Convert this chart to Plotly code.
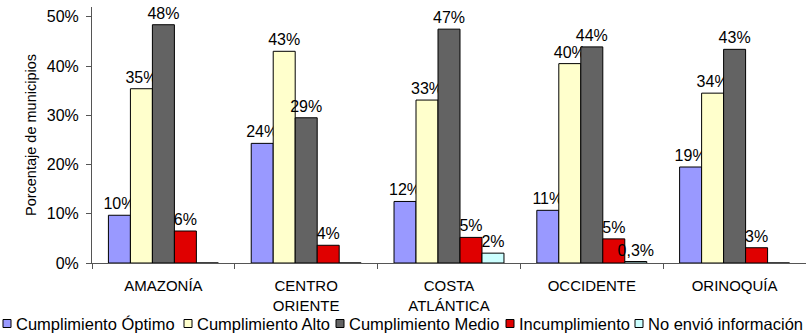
import plotly.graph_objects as go

categories = ["AMAZONÍA", "CENTRO<br>ORIENTE", "COSTA<br>ATLÁNTICA", "OCCIDENTE", "ORINOQUÍA"]
series_names = ["Cumplimiento Óptimo", "Cumplimiento Alto", "Cumplimiento Medio",
                "Incumplimiento", "No envió información"]
optimo = [0.097, 0.243, 0.125, 0.107, 0.195]
alto = [0.354, 0.430, 0.331, 0.405, 0.345]
medio = [0.484, 0.295, 0.475, 0.439, 0.434]
incumplimiento = [0.065, 0.036, 0.052, 0.049, 0.031]
no_envio = [0.0, 0.0, 0.020, 0.003, 0.0]
labels_optimo = ["10%", "24%", "12%", "11%", "19%"]
labels_alto = ["35%", "43%", "33%", "40%", "34%"]
labels_medio = ["48%", "29%", "47%", "44%", "43%"]
labels_incump = ["6%", "4%", "5%", "5%", "3%"]
labels_no_envio = ["", "", "2%", "0,3%", ""]
y_ticks = [0, 0.1, 0.2, 0.3, 0.4, 0.5]
y_ticklabels = ["0%", "10%", "20%", "30%", "40%", "50%"]

# styling
colors = ["#9999FF", "#FFFFCC", "#636363", "#E00000", "#CCFFFF"]
FONT = "Liberation Sans, Arial, sans-serif"
W, H = 806, 336
ML, MR, MT, MB = 92, 0, 7, 73
PW, PH = W - ML - MR, H - MT - MB

# custom legend layout (pixel positions of the swatches, Excel style)
legend_swatch_px = [3, 184, 336, 506, 635]
legend_center_y_px = 324
swatch = 8

def px_x(px):
    return (px - ML) / PW

def px_y(py):
    return (H - MB - py) / PH

values = [optimo, alto, medio, incumplimiento, no_envio]
texts = [labels_optimo, labels_alto, labels_medio, labels_incump, labels_no_envio]

fig = go.Figure()
for name, vals, txt, col in zip(series_names, values, texts, colors):
    fig.add_trace(go.Bar(
        name=name, x=categories, y=vals, text=txt,
        textposition="outside", constraintext="none", cliponaxis=False,
        textfont=dict(family=FONT, size=16, color="#000"),
        marker=dict(color=col, line=dict(color="#000", width=1)),
        showlegend=False,
    ))

shapes = []
annotations = []
for name, col, sx in zip(series_names, colors, legend_swatch_px):
    shapes.append(dict(type="rect", xref="paper", yref="paper",
                       x0=px_x(sx), x1=px_x(sx + swatch),
                       y0=px_y(legend_center_y_px + swatch / 2 - 0.5),
                       y1=px_y(legend_center_y_px - swatch / 2 - 0.5),
                       fillcolor=col, line=dict(color="#000", width=1)))
    annotations.append(dict(text=name, xref="paper", yref="paper",
                            x=px_x(sx + swatch + 3), y=px_y(legend_center_y_px),
                            xanchor="left", yanchor="middle", showarrow=False,
                            font=dict(family=FONT, size=16.5, color="#000")))

fig.update_layout(
    width=W, height=H,
    margin=dict(l=ML, r=MR, t=MT, b=MB),
    paper_bgcolor="white", plot_bgcolor="white",
    barmode="group", bargap=0.23, bargroupgap=0,
    font=dict(family=FONT, size=16, color="#000"),
    showlegend=False,
    shapes=shapes, annotations=annotations,
    xaxis=dict(showline=True, linecolor="#555", linewidth=1, automargin=False,
               ticks="outside", tickson="boundaries", ticklen=5, tickcolor="#555",
               tickfont=dict(family=FONT, size=15, color="#000"),
               ticklabelstandoff=9, showgrid=False, zeroline=False, fixedrange=True),
    yaxis=dict(range=[0, 0.52], showline=True, linecolor="#555", linewidth=1,
               automargin=False,
               ticks="outside", ticklen=5, tickcolor="#555",
               tickvals=y_ticks, ticktext=y_ticklabels,
               tickfont=dict(family=FONT, size=16, color="#000"),
               ticklabelstandoff=4, showgrid=False, zeroline=False,
               title=dict(text="Porcentaje de municipios", standoff=6,
                          font=dict(family=FONT, size=14.5, color="#000"))),
)

fig.write_html("out.html", config={"displayModeBar": False},
               post_script="document.body.style.margin='0';document.body.style.overflow='hidden';")
